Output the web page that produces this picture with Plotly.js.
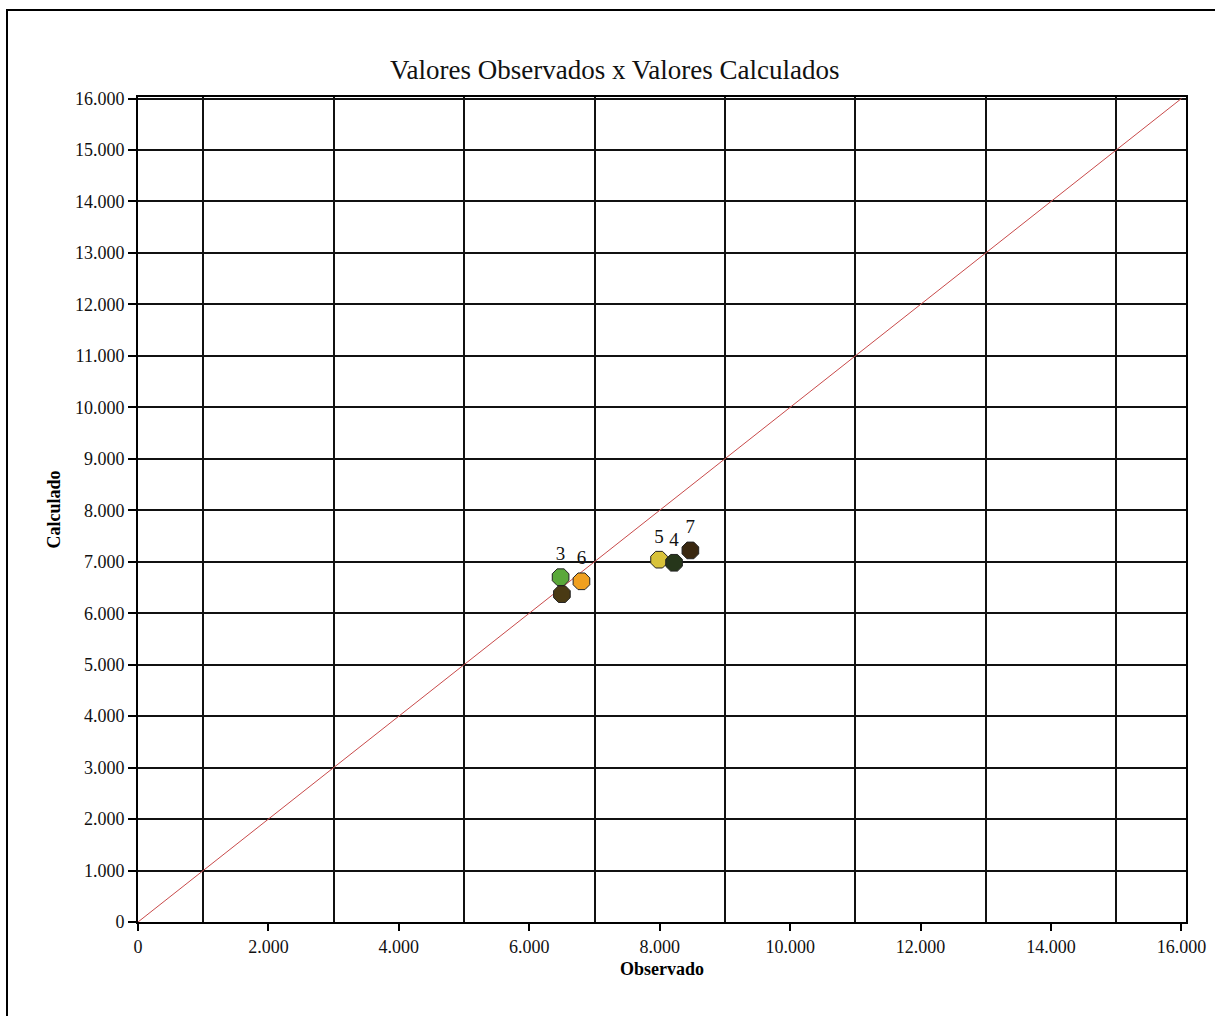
<!DOCTYPE html>
<html>
<head>
<meta charset="utf-8">
<script src="https://cdn.plot.ly/plotly-3.0.1.min.js"></script>
<style>
  html, body { margin: 0; padding: 0; background: #fff; }
  #chart { width: 1215px; height: 1016px; }
  #frame { position: absolute; left: 6px; top: 9px; width: 1215px; height: 1016px;
           border-left: 2px solid #000; border-top: 2px solid #000; pointer-events: none; }
</style>
</head>
<body>
<div id="chart"></div>
<div id="frame"></div>
<script>
// Data
const pointLabels = ["", "6", "3", "5", "4", "7"];
const observado   = [6500, 6800, 6480, 7990, 8220, 8470];
const calculado   = [6370, 6620, 6700, 7040, 6980, 7220];
const pointColors = ["#4a3a14", "#f0a020", "#5aa83a", "#d8c23a", "#26361a", "#3a2810"];

const lineX = [0, 16000];
const lineY = [0, 16000];

const xTickVals = [0, 2000, 4000, 6000, 8000, 10000, 12000, 14000, 16000];
const xTickText = ["0", "2.000", "4.000", "6.000", "8.000", "10.000", "12.000", "14.000", "16.000"];
const xGridVals = [1000, 3000, 5000, 7000, 9000, 11000, 13000, 15000];
const yTickVals = [0,1000,2000,3000,4000,5000,6000,7000,8000,9000,10000,11000,12000,13000,14000,15000,16000];
const yTickText = ["0","1.000","2.000","3.000","4.000","5.000","6.000","7.000","8.000","9.000","10.000","11.000","12.000","13.000","14.000","15.000","16.000"];

const serif = "Liberation Serif";

const traces = [
  { x: [null], y: [null], xaxis: "x2", yaxis: "y", type: "scatter", mode: "markers",
    hoverinfo: "skip", showlegend: false },
  { x: lineX, y: lineY, mode: "lines", type: "scatter",
    line: { color: "#c84a4a", width: 1 }, hoverinfo: "skip", showlegend: false }
];
for (let i = 0; i < pointLabels.length; i++) {
  traces.push({
    x: [observado[i]], y: [calculado[i]], type: "scatter", mode: "markers+text",
    text: [pointLabels[i]], textposition: "top center",
    textfont: { family: serif, size: 19, color: "#111" },
    marker: { symbol: "octagon", size: 18, color: pointColors[i], line: { color: "#222", width: 1 } },
    showlegend: false
  });
}

const layout = {
  width: 1215, height: 1016,
  font: { family: serif, color: "#111" },
  margin: { l: 138, r: 29, t: 97, b: 94 },
  paper_bgcolor: "#fff", plot_bgcolor: "#fff",
  title: { text: "Valores Observados x Valores Calculados", x: 0.506, xanchor: "center",
           y: 1 - 70/1016, yanchor: "middle",
           font: { family: serif, size: 27, color: "#111" } },
  xaxis: {
    range: [0, 16070], tickvals: xTickVals, ticktext: xTickText,
    showgrid: false, zeroline: false,
    showline: true, linecolor: "#000", linewidth: 2, mirror: true,
    ticks: "outside", ticklen: 7, tickcolor: "#000", tickwidth: 2,
    tickfont: { family: serif, size: 18, color: "#111" },
    title: { text: "<b>Observado</b>", font: { family: serif, size: 18, color: "#000" }, standoff: 7 },
    fixedrange: true
  },
  xaxis2: {
    overlaying: "x", side: "bottom", range: [0, 16070],
    tickvals: xGridVals, showticklabels: false, ticks: "",
    showgrid: true, gridcolor: "#111", gridwidth: 2, zeroline: false, showline: false,
    fixedrange: true
  },
  yaxis: {
    range: [0, 16030], tickvals: yTickVals, ticktext: yTickText,
    showgrid: true, gridcolor: "#111", gridwidth: 2, zeroline: false,
    showline: true, linecolor: "#000", linewidth: 2, mirror: true,
    ticks: "outside", ticklen: 8, tickcolor: "#000", tickwidth: 2,
    tickfont: { family: serif, size: 18, color: "#111" },
    title: { text: "<b>Calculado</b>", font: { family: serif, size: 18, color: "#000" }, standoff: 10 },
    fixedrange: true
  },
  showlegend: false
};

Plotly.newPlot("chart", traces, layout, { displayModeBar: false, staticPlot: true });
</script>
</body>
</html>
